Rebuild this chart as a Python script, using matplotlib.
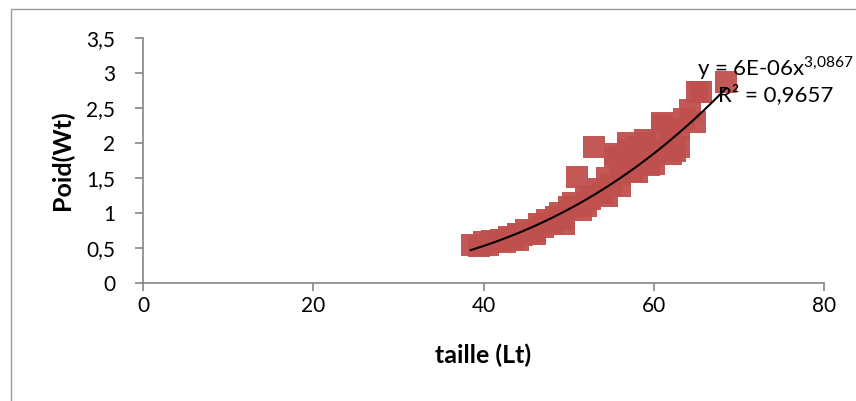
import matplotlib.pyplot as plt
import matplotlib.patches as patches
import numpy as np

# points (taille, poids)
taille = [38.7, 39.5, 40.0, 40.5, 41.0, 42.0, 42.5, 43.0, 43.5, 44.0,
          44.5, 45.0, 45.5, 46.0, 46.5, 47.0, 47.5, 48.0, 48.5, 49.0,
          49.5, 50.0, 50.5, 51.0, 51.5, 52.0, 52.5, 53.0, 53.5, 54.0,
          54.5, 55.0, 55.5, 56.0, 56.5, 57.0, 57.5, 58.0, 58.5, 59.0,
          59.5, 60.0, 60.5, 61.0, 61.5, 62.0, 62.5, 63.0, 63.5, 64.3,
          64.8, 65.1, 68.5, 49.5, 52.0, 54.5, 56.0, 58.0, 60.0, 62.0,
          63.0, 55.5, 57.0, 59.0, 61.0, 65.6, 44.0, 46.0]
poids = [0.55, 0.53, 0.58, 0.55, 0.60, 0.62, 0.58, 0.66, 0.63, 0.70,
         0.68, 0.76, 0.72, 0.74, 0.85, 0.80, 0.90, 0.86, 0.95, 1.00,
         0.92, 1.08, 1.15, 1.51, 1.05, 1.25, 1.20, 1.94, 1.35, 1.28,
         1.50, 1.40, 1.80, 1.55, 1.68, 1.90, 1.60, 1.95, 1.72, 2.00,
         1.68, 1.85, 1.95, 2.26, 1.90, 2.10, 1.88, 2.20, 2.35, 2.47,
         2.30, 2.73, 2.87, 0.85, 1.10, 1.25, 1.38, 1.58, 1.70, 1.85,
         1.95, 1.85, 2.00, 2.05, 2.28, 2.73, 0.62, 0.70]

# courbe de tendance (puissance) affichée sur le graphique
coef_a = 6e-06
coef_b = 3.0867
yticks = [0, 0.5, 1, 1.5, 2, 2.5, 3, 3.5]
ytick_labels = ['0', '0,5', '1', '1,5', '2', '2,5', '3', '3,5']
xticks = [0, 20, 40, 60, 80]

plt.rcParams['font.family'] = ['Lato', 'DejaVu Sans']
plt.rcParams['mathtext.fontset'] = 'custom'
plt.rcParams['mathtext.rm'] = 'Lato'

fig = plt.figure(figsize=(8.56, 4.01), dpi=100)
ax = fig.add_axes([143 / 856, 1 - 283 / 401, 681 / 856, 245 / 401])

# cadre extérieur du graphique
cadre = patches.Rectangle((10.5 / 856, -0.1), 1.0, 1.1 - 8.5 / 401,
                          transform=fig.transFigure, fill=False,
                          edgecolor='#9a9a9a', linewidth=1.0)
fig.patches.append(cadre)

ax.scatter(taille, poids, marker='s', s=250, color='#C0504D', alpha=0.95,
           linewidths=0, zorder=2)

xs = np.linspace(min(taille) - 0.2, max(taille), 200)
ax.plot(xs, coef_a * xs ** coef_b, color='black', linewidth=1.5, zorder=3)

ax.set_xlim(0, 80)
ax.set_ylim(0, 3.5)
ax.set_xticks(xticks)
ax.set_xticklabels([str(t) for t in xticks])
ax.set_yticks(yticks)
ax.set_yticklabels(ytick_labels)

for s in ['top', 'right']:
    ax.spines[s].set_visible(False)
for s in ['left', 'bottom']:
    ax.spines[s].set_color('#868686')
    ax.spines[s].set_linewidth(1.2)
ax.tick_params(axis='both', colors='#868686', labelcolor='black',
               labelsize=15, length=6, width=1.2, direction='out')
ax.tick_params(axis='x', pad=3)
ax.tick_params(axis='y', pad=14)

ax.set_xlabel('taille (Lt)', fontsize=18, fontweight='bold', labelpad=20)
ax.set_ylabel('Poid(Wt)', fontsize=18, fontweight='bold', labelpad=9)

fig.text(697 / 856, 1 - 76 / 401, r'y = 6E-06x$^{3{,}0867}$', fontsize=16)
fig.text(718 / 856, 1 - 101 / 401, 'R² = 0,9657', fontsize=16)

plt.savefig('out.png', dpi=100)
plt.close()
